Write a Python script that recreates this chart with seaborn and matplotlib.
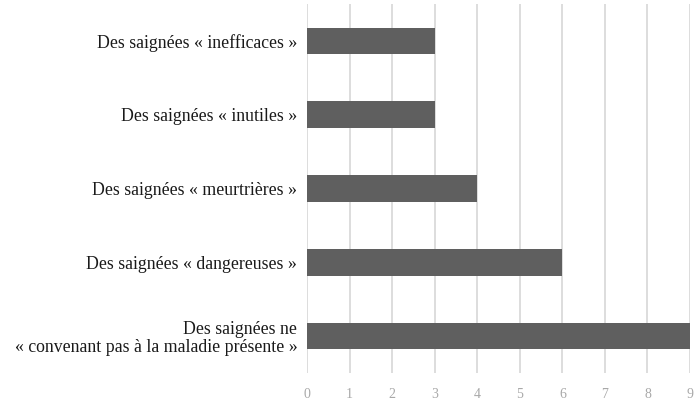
import matplotlib
matplotlib.use("Agg")
import matplotlib.pyplot as plt
import seaborn as sns
import pandas as pd

categories = [
    "Des saignées « inefficaces »",
    "Des saignées « inutiles »",
    "Des saignées « meurtrières »",
    "Des saignées « dangereuses »",
    "Des saignées ne\n« convenant pas à la maladie présente »",
]
values = [3, 3, 4, 6, 9]
xticks = [0, 1, 2, 3, 4, 5, 6, 7, 8, 9]

sns.set_theme(style="white")
plt.rcParams['font.family'] = ['Liberation Serif', 'DejaVu Serif']

df = pd.DataFrame({"cat": categories, "val": values})

fig = plt.figure(figsize=(6.94, 4.08), dpi=100)
ax = fig.add_axes([307/694, 35/408, (690-307)/694, (404-35)/408])
sns.barplot(data=df, x="val", y="cat", color="#5f5f5f", saturation=1,
            width=0.36, ax=ax, orient="h")
ax.set_xlim(0, 9)
ax.set_xticks(xticks)
ax.set_xticklabels([str(t) for t in xticks], color="#a8a8a8", fontsize=10)
ax.set_xlabel("")
ax.set_ylabel("")
ax.tick_params(axis="y", labelsize=12.8, colors="#1a1a1a", length=0, pad=7)
ax.tick_params(axis="x", length=0, pad=11)
for lab in ax.get_yticklabels():
    lab.set_horizontalalignment("right")
    lab.set_multialignment("right")
    lab.set_linespacing(1.1)
ax.grid(axis="x", color="#dadada", linewidth=1.3)
ax.set_axisbelow(True)
for s in ax.spines.values():
    s.set_visible(False)
for b in ax.patches:
    b.set_edgecolor("none")
fig.savefig("out.png", dpi=100)
